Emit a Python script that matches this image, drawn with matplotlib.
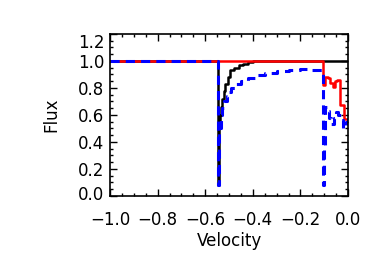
import matplotlib
matplotlib.use("Agg")
import matplotlib.pyplot as plt
from matplotlib.ticker import MultipleLocator
from matplotlib.transforms import ScaledTranslation

plt.rcParams['font.family'] = ['DejaVu Sans']

# black: one absorber
vel_black = [-1.0, -0.548, -0.547, -0.543, -0.538, -0.533, -0.528, -0.522, -0.515,
             -0.505, -0.495, -0.48, -0.46, -0.44, -0.42, -0.40, 0.0]
flux_black = [1.0, 1.0, 0.08, 0.50, 0.60, 0.66, 0.72, 0.78, 0.83,
              0.88, 0.93, 0.95, 0.97, 0.98, 0.99, 1.0, 1.0]

# red: second absorber only
vel_red = [-1.0, -0.104, -0.103, -0.095, -0.085, -0.075, -0.065, -0.055, -0.045,
           -0.032, -0.015, 0.0]
flux_red = [1.0, 1.0, 0.82, 0.88, 0.87, 0.84, 0.81, 0.85, 0.86,
            0.67, 0.57, 0.57]

# blue dashed: both
vel_blue = [-1.0, -0.548, -0.547, -0.543, -0.535, -0.528, -0.52, -0.51, -0.50, -0.49,
            -0.47, -0.45, -0.42, -0.39, -0.35, -0.30, -0.25, -0.20, -0.15, -0.12,
            -0.106, -0.104, -0.101, -0.098, -0.09, -0.08, -0.07, -0.06, -0.05,
            -0.04, -0.03, -0.02, -0.01, 0.0]
flux_blue = [1.0, 1.0, 0.08, 0.50, 0.60, 0.65, 0.70, 0.74, 0.77, 0.80,
             0.83, 0.855, 0.875, 0.895, 0.91, 0.925, 0.935, 0.94, 0.935, 0.93,
             0.92, 0.08, 0.35, 0.66, 0.63, 0.58, 0.53, 0.58, 0.62,
             0.60, 0.56, 0.50, 0.55, 0.58]

fig = plt.figure(figsize=(3.82, 2.67), dpi=100)
ax = fig.add_axes([0.288, 0.266, 0.623, 0.607])

ax.plot(vel_black, flux_black, color='black', lw=1.8, drawstyle='steps-post')
ax.plot(vel_red, flux_red, color='red', lw=1.8, drawstyle='steps-post')
ax.plot(vel_blue, flux_blue, color='blue', lw=2.2, ls=(0, (3, 2)), drawstyle='steps-post')

ax.set_xlim(-1.0, 0.0)
ax.set_ylim(0.0, 1.2)
ax.set_xticks([-1.0, -0.8, -0.6, -0.4, -0.2, 0.0])
ax.set_yticks([0.0, 0.2, 0.4, 0.6, 0.8, 1.0, 1.2])
ax.xaxis.set_minor_locator(MultipleLocator(0.05))
ax.yaxis.set_minor_locator(MultipleLocator(0.05))
ax.tick_params(which='both', direction='in', top=True, right=True, labelsize=12)
ax.tick_params(which='major', length=5, width=1)
ax.tick_params(which='minor', length=2.5, width=1)
ax.tick_params(axis='x', which='major', pad=11)
ax.tick_params(axis='y', which='major', pad=4)
ax.set_xticklabels(['\u22121.0', '\u22120.8', '\u22120.6', '\u22120.4', '\u22120.2', '0.0'])

# IDL style: end labels nudged inside the axis range
ylabels = ax.get_yticklabels()
ylabels[0].set_transform(ylabels[0].get_transform()
                         + ScaledTranslation(0, 3 / 100, fig.dpi_scale_trans))
ylabels[-1].set_va('top')

for s in ax.spines.values():
    s.set_linewidth(1.2)

ax.set_xlabel('Velocity', fontsize=12, labelpad=2)
ax.set_ylabel('Flux', fontsize=12, labelpad=13)

fig.savefig('out.png', dpi=100)
